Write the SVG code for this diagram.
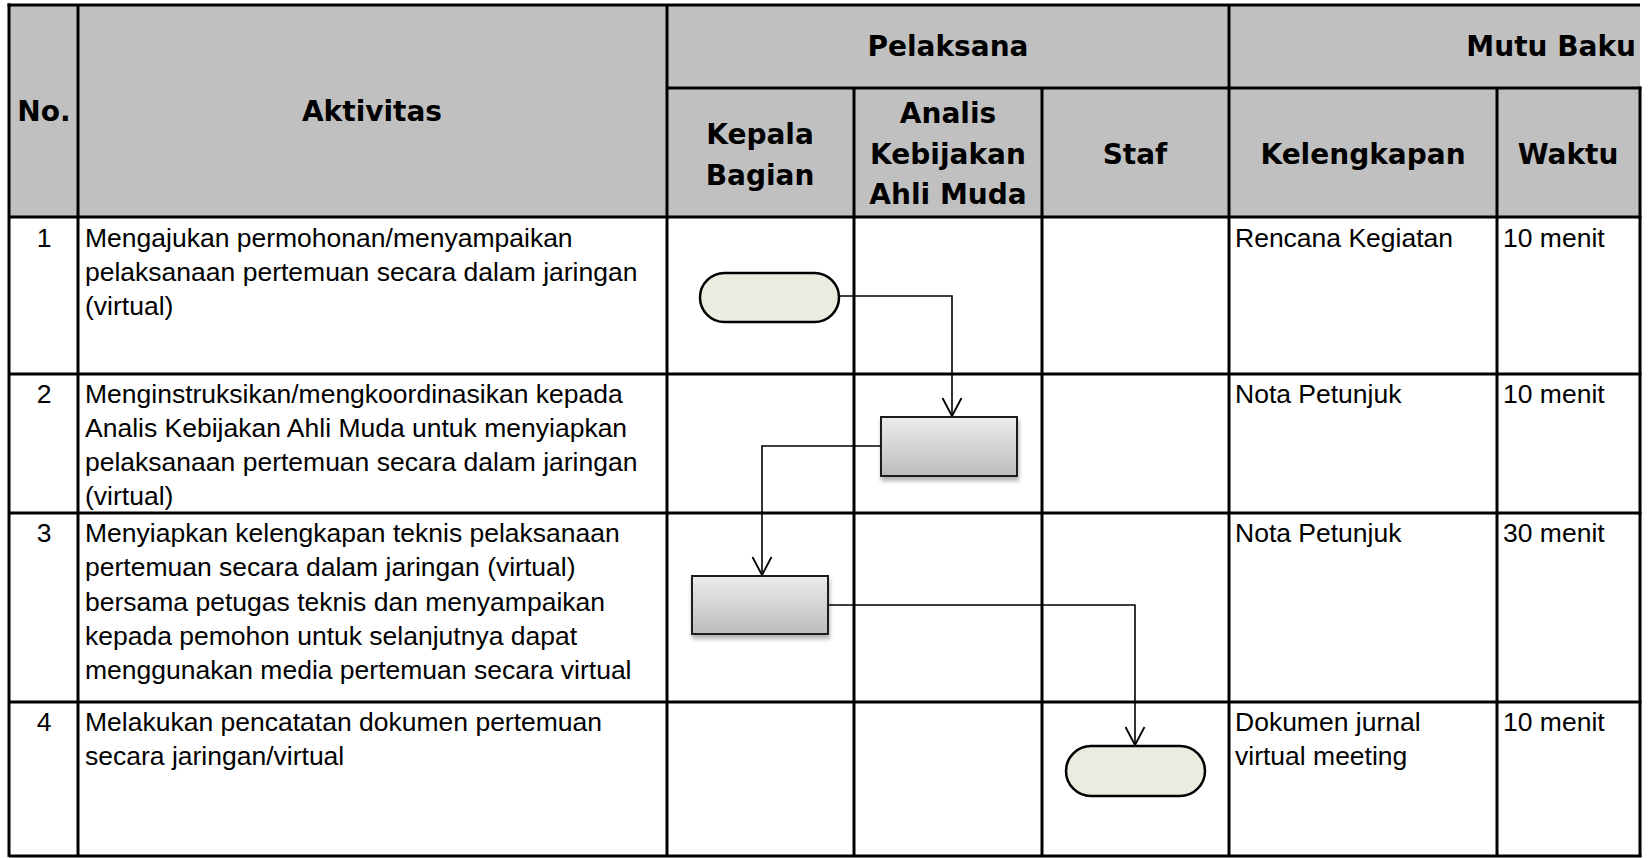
<svg xmlns="http://www.w3.org/2000/svg" width="1650" height="858" viewBox="0 0 1650 858">
  <style>
    .hdr { font-family: "DejaVu Sans", Verdana, sans-serif; font-weight: bold; font-size: 28px; fill: #000; text-anchor: middle; }
    .txt { font-family: "Liberation Sans", Arial, sans-serif; font-size: 26.5px; fill: #000; }
    .num { font-family: "Liberation Sans", Arial, sans-serif; font-size: 26.5px; fill: #000; text-anchor: middle; }
    .grid { stroke: #000; stroke-width: 3; fill: none; }
    .oval { fill: #ecebdf; stroke: #000; stroke-width: 2.5; }
    .box { fill: url(#boxGrad); stroke: #1a1a1a; stroke-width: 2; filter: url(#shadow); }
    .conn { fill: none; stroke: #000; stroke-width: 1.6; }
    .head { fill: none; stroke: #000; stroke-width: 1.8; }
  </style>
  <defs>
    <linearGradient id="boxGrad" x1="0" y1="0" x2="0" y2="1">
      <stop offset="0" stop-color="#ececec"/>
      <stop offset="1" stop-color="#bcbcbc"/>
    </linearGradient>
    <filter id="shadow" x="-10%" y="-10%" width="130%" height="140%">
      <feDropShadow dx="1" dy="4" stdDeviation="2" flood-color="#000" flood-opacity="0.3"/>
    </filter>
  </defs>

  <rect x="0" y="0" width="1650" height="858" fill="#fff"/>

  <!-- header background -->
  <rect x="9" y="5" width="1631" height="212" fill="#c0c0c0"/>

  <!-- table grid -->
  <g id="table-grid" class="grid">
    <line x1="7.5" y1="5" x2="1640" y2="5"/>
    <line x1="9" y1="3.5" x2="9" y2="857"/>
    <line x1="78" y1="5" x2="78" y2="857"/>
    <line x1="667" y1="5" x2="667" y2="857"/>
    <line x1="1229" y1="5" x2="1229" y2="857"/>
    <line x1="854" y1="88" x2="854" y2="857"/>
    <line x1="1042" y1="88" x2="1042" y2="857"/>
    <line x1="1497" y1="88" x2="1497" y2="857"/>
    <line x1="1640" y1="86.5" x2="1640" y2="857"/>
    <line x1="667" y1="88" x2="1641.5" y2="88"/>
    <line x1="9" y1="217" x2="1641.5" y2="217"/>
    <line x1="9" y1="374" x2="1641.5" y2="374"/>
    <line x1="9" y1="513" x2="1641.5" y2="513"/>
    <line x1="9" y1="702" x2="1641.5" y2="702"/>
    <line x1="9" y1="856" x2="1641.5" y2="856"/>
  </g>

  <!-- header texts -->
  <g id="header">
    <text class="hdr" x="44" y="121">No.</text>
    <text class="hdr" x="372" y="121">Aktivitas</text>
    <text class="hdr" x="948" y="56">Pelaksana</text>
    <text class="hdr" x="1636" y="56" style="text-anchor:end">Mutu Baku</text>
    <text class="hdr" x="760" y="144">Kepala</text>
    <text class="hdr" x="760" y="185">Bagian</text>
    <text class="hdr" x="948" y="123">Analis</text>
    <text class="hdr" x="948" y="164">Kebijakan</text>
    <text class="hdr" x="948" y="204">Ahli Muda</text>
    <text class="hdr" x="1135" y="164">Staf</text>
    <text class="hdr" x="1363" y="164">Kelengkapan</text>
    <text class="hdr" x="1568" y="164">Waktu</text>
  </g>

  <!-- row texts -->
  <g id="row-1">
    <text class="num" x="44" y="247">1</text>
    <text class="txt" x="85" y="247">Mengajukan permohonan/menyampaikan</text>
    <text class="txt" x="85" y="281">pelaksanaan pertemuan secara dalam jaringan</text>
    <text class="txt" x="85" y="315">(virtual)</text>
    <text class="txt" x="1235" y="247">Rencana Kegiatan</text>
    <text class="txt" x="1503" y="247">10 menit</text>
  </g>
  <g id="row-2">
    <text class="num" x="44" y="402.5">2</text>
    <text class="txt" x="85" y="402.5">Menginstruksikan/mengkoordinasikan kepada</text>
    <text class="txt" x="85" y="436.7">Analis Kebijakan Ahli Muda untuk menyiapkan</text>
    <text class="txt" x="85" y="470.9">pelaksanaan pertemuan secara dalam jaringan</text>
    <text class="txt" x="85" y="505.1">(virtual)</text>
    <text class="txt" x="1235" y="402.5">Nota Petunjuk</text>
    <text class="txt" x="1503" y="402.5">10 menit</text>
  </g>
  <g id="row-3">
    <text class="num" x="44" y="542">3</text>
    <text class="txt" x="85" y="542">Menyiapkan kelengkapan teknis pelaksanaan</text>
    <text class="txt" x="85" y="576.3">pertemuan secara dalam jaringan (virtual)</text>
    <text class="txt" x="85" y="610.6">bersama petugas teknis dan menyampaikan</text>
    <text class="txt" x="85" y="644.9">kepada pemohon untuk selanjutnya dapat</text>
    <text class="txt" x="85" y="679.2">menggunakan media pertemuan secara virtual</text>
    <text class="txt" x="1235" y="542">Nota Petunjuk</text>
    <text class="txt" x="1503" y="542">30 menit</text>
  </g>
  <g id="row-4">
    <text class="num" x="44" y="730.5">4</text>
    <text class="txt" x="85" y="730.5">Melakukan pencatatan dokumen pertemuan</text>
    <text class="txt" x="85" y="764.5">secara jaringan/virtual</text>
    <text class="txt" x="1235" y="730.5">Dokumen jurnal</text>
    <text class="txt" x="1235" y="764.5">virtual meeting</text>
    <text class="txt" x="1503" y="730.5">10 menit</text>
  </g>

  <!-- connectors -->
  <g id="connectors">
    <path class="conn" d="M839 296 H952 V416"/>
    <path class="head" d="M942.5 398 L952 416 L961.5 398"/>
    <path class="conn" d="M881 446 H762 V575"/>
    <path class="head" d="M752.5 557 L762 575 L771.5 557"/>
    <path class="conn" d="M829 605 H1135 V745"/>
    <path class="head" d="M1125.5 727 L1135 745 L1144.5 727"/>
  </g>

  <!-- nodes -->
  <g id="node-1-start">
    <rect class="oval" x="700" y="273" width="139" height="49" rx="24.5" ry="24.5"/>
  </g>
  <g id="node-2-process">
    <rect class="box" x="881" y="417" width="136" height="59"/>
  </g>
  <g id="node-3-process">
    <rect class="box" x="692" y="576" width="136" height="58"/>
  </g>
  <g id="node-4-end">
    <rect class="oval" x="1066" y="746" width="139" height="50" rx="25" ry="25"/>
  </g>
</svg>
